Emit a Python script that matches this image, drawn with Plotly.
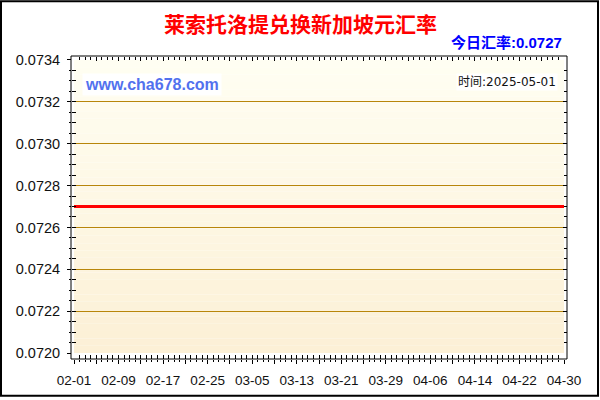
import pandas as pd
import plotly.graph_objects as go

#####
# Data
#####

dates = pd.date_range('2025-02-01', '2025-04-30', freq='D')
rates = [
    0.0727, 0.0727, 0.0727, 0.0727, 0.0727, 0.0727, 0.0727, 0.0727, 0.0727, 0.0727,
    0.0727, 0.0727, 0.0727, 0.0727, 0.0727, 0.0727, 0.0727, 0.0727, 0.0727, 0.0727,
    0.0727, 0.0727, 0.0727, 0.0727, 0.0727, 0.0727, 0.0727, 0.0727, 0.0727, 0.0727,
    0.0727, 0.0727, 0.0727, 0.0727, 0.0727, 0.0727, 0.0727, 0.0727, 0.0727, 0.0727,
    0.0727, 0.0727, 0.0727, 0.0727, 0.0727, 0.0727, 0.0727, 0.0727, 0.0727, 0.0727,
    0.0727, 0.0727, 0.0727, 0.0727, 0.0727, 0.0727, 0.0727, 0.0727, 0.0727, 0.0727,
    0.0727, 0.0727, 0.0727, 0.0727, 0.0727, 0.0727, 0.0727, 0.0727, 0.0727, 0.0727,
    0.0727, 0.0727, 0.0727, 0.0727, 0.0727, 0.0727, 0.0727, 0.0727, 0.0727, 0.0727,
    0.0727, 0.0727, 0.0727, 0.0727, 0.0727, 0.0727, 0.0727, 0.0727, 0.0727,
]
y_ticks = [0.0720, 0.0722, 0.0724, 0.0726, 0.0728, 0.0730, 0.0732, 0.0734]

title_text = '莱索托洛提兑换新加坡元汇率'
today_text = '今日汇率:0.0727'
site_text = 'www.cha678.com'
time_text = '时间:2025-05-01'

#####
# Geometry helpers (pixel -> paper)
#####

W, H = 600, 400
L, R, T, B = 71, 33, 56, 39
PW, PH = W - L - R, H - T - B


def px(x):
    return (x - L) / PW


def py(y):
    return (H - B - y) / PH


x_dom = [px(74), px(564)]
y_dom = [py(355), py(60)]
x_range = [dates[0], dates[-1]]
y_range = [y_ticks[0], y_ticks[-1]]
day_ms = 86400000

major_x = list(dates[::4])
major_txt = [d.strftime('%m-%d') if i % 2 == 0 else '' for i, d in enumerate(major_x)]

#####
# Figure
#####

fig = go.Figure()
fig.add_trace(go.Scatter(x=dates, y=rates, mode='lines',
                         line=dict(color='#FF0000', width=3),
                         hoverinfo='skip', showlegend=False))

#  Empty traces so the overlay tick axes get drawn
for ax_x, ax_y in [('x2', 'y2'), ('x3', 'y3')]:
    fig.add_trace(go.Scatter(x=[], y=[], xaxis=ax_x, yaxis=ax_y,
                             hoverinfo='skip', showlegend=False))

#  Vertical gradient behind the plot area
n_bands = 40
top_c, bot_c = (255, 254, 242), (252, 240, 214)
for i in range(n_bands):
    f = i / (n_bands - 1)
    c = tuple(round(top_c[k] + (bot_c[k] - top_c[k]) * f) for k in range(3))
    fig.add_shape(type='rect', xref='x domain', yref='y domain',
                  x0=0, x1=1, y0=1 - (i + 1) / n_bands, y1=1 - i / n_bands,
                  fillcolor='rgb(%d,%d,%d)' % c, line_width=0, layer='below')

#  Axis frame (lines sit a few px outside the filled area)
fig.add_shape(type='rect', xref='paper', yref='paper',
              x0=0, x1=1, y0=0, y1=1,
              line=dict(color='black', width=1), layer='above')

#  Outer black frame
fig.add_shape(type='rect', xref='paper', yref='paper',
              x0=px(1), x1=px(598), y0=py(398), y1=py(1),
              line=dict(color='black', width=2), layer='above')

font_lat = 'Liberation Sans, Arial, Noto Sans CJK SC'
tick_common = dict(tickcolor='black', showline=False, showgrid=False, zeroline=False)

fig.update_layout(
    width=W, height=H,
    margin=dict(l=L, r=R, t=T, b=B),
    paper_bgcolor='white', plot_bgcolor='white',
    showlegend=False,
    xaxis=dict(domain=x_dom, range=x_range, type='date', anchor='free', position=0,
               ticks='outside', ticklen=4,
               tickmode='array', tickvals=major_x, ticktext=major_txt,
               tickfont=dict(family=font_lat, size=13.5, color='#111'),
               ticklabelstandoff=5,
               minor=dict(ticks='outside', ticklen=2, dtick=day_ms, tick0=dates[0],
                          tickcolor='black', showgrid=False),
               **tick_common),
    xaxis2=dict(overlaying='x', range=x_range, type='date', anchor='free', position=0,
                ticks='inside', ticklen=4,
                tickmode='array', tickvals=major_x, showticklabels=False,
                minor=dict(ticks='inside', ticklen=4, dtick=day_ms, tick0=dates[0],
                           tickcolor='black', showgrid=False),
                **tick_common),
    xaxis3=dict(overlaying='x', range=x_range, type='date', anchor='free', position=1,
                side='top', ticks='inside', ticklen=4,
                tickmode='array', tickvals=major_x, showticklabels=False,
                minor=dict(ticks='inside', ticklen=3, dtick=day_ms, tick0=dates[0],
                           tickcolor='black', showgrid=False),
                **tick_common),
    yaxis=dict(domain=y_dom, range=y_range, anchor='free', position=0,
               showline=False, ticks='outside', ticklen=4, tickcolor='black',
               tickmode='array', tickvals=y_ticks, tickformat='.4f',
               tickfont=dict(family=font_lat, size=14.5, color='#111'),
               ticklabelstandoff=4,
               showgrid=True, gridcolor='#B8860B', gridwidth=1, zeroline=False,
               minor=dict(ticks='outside', ticklen=2, dtick=0.00005, tick0=y_ticks[0],
                          tickcolor='black', showgrid=False)),
    yaxis2=dict(overlaying='y', range=y_range, anchor='free', position=0,
                ticks='inside', ticklen=4,
                tickmode='array', tickvals=y_ticks, showticklabels=False,
                minor=dict(ticks='inside', ticklen=4, dtick=0.00005, tick0=y_ticks[0],
                           tickcolor='black', showgrid=False),
                **tick_common),
    yaxis3=dict(overlaying='y', range=y_range, anchor='free', position=1,
                side='right', ticks='inside', ticklen=4,
                tickmode='array', tickvals=y_ticks, showticklabels=False,
                minor=dict(ticks='inside', ticklen=3, dtick=0.00005, tick0=y_ticks[0],
                           tickcolor='black', showgrid=False),
                **tick_common),
)

#  Texts
fig.add_annotation(text='<b>%s</b>' % title_text, xref='paper', yref='paper',
                   x=px(300), y=py(23), xanchor='center', yanchor='middle',
                   showarrow=False,
                   font=dict(family='Noto Sans CJK SC', size=21, color='#FF0000'))
fig.add_annotation(text='<b>%s</b>' % today_text, xref='paper', yref='paper',
                   x=px(564), y=py(42), xanchor='right', yanchor='middle',
                   showarrow=False,
                   font=dict(family=font_lat, size=15, color='#0000FF'))
fig.add_annotation(text='<b>%s</b>' % site_text, xref='paper', yref='paper',
                   x=px(82), y=py(85), xanchor='left', yanchor='middle',
                   showarrow=False, bgcolor='white', borderpad=2,
                   font=dict(family=font_lat, size=16, color='#5271EE'))
fig.add_annotation(text=time_text, xref='paper', yref='paper',
                   x=px(558), y=py(82), xanchor='right', yanchor='middle',
                   showarrow=False, bgcolor='white', borderpad=1,
                   font=dict(family='DejaVu Sans, Noto Sans CJK SC', size=12, color='#111'))

#  Page body has a default 8px margin; drop it so the figure fills the window
fig.write_html('out.html', config={'displayModeBar': False},
               post_script="document.body.style.margin='0';")
